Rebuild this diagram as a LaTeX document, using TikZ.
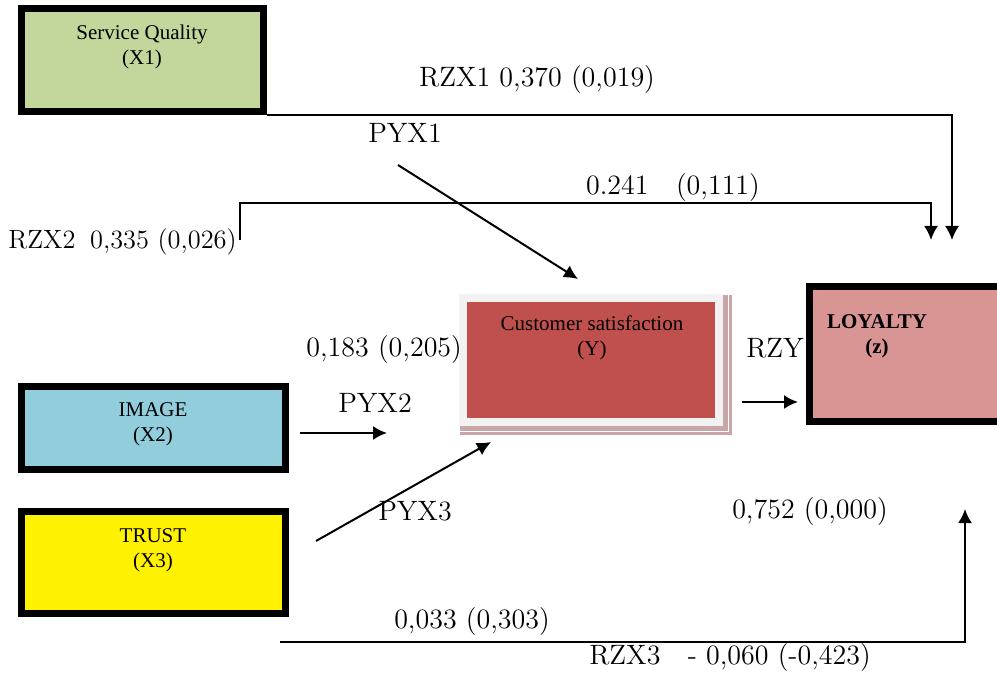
\documentclass[tikz,border=0pt]{standalone}
\usepackage{fontspec}
\usepackage{tikz}
\usetikzlibrary{arrows.meta,backgrounds}
\newfontfamily\timesfont{Liberation Serif}
\definecolor{sqgreen}{HTML}{C3D69B}
\definecolor{imblue}{HTML}{92CDDC}
\definecolor{csred}{HTML}{C0504D}
\definecolor{csframe}{HTML}{F2F2F2}
\definecolor{csshadow}{HTML}{C9A6A8}
\definecolor{lypink}{HTML}{D99594}
\newcommand{\lblfont}{\fontsize{14}{17}\selectfont}
\newcommand{\boxfont}{\timesfont\fontsize{10.5}{12.5}\selectfont}

\begin{document}
\begin{tikzpicture}[x=0.5pt,y=-0.5pt,
    varbox/.style={draw,line width=3.5pt,shape=rectangle,inner sep=0pt},
    boxtxt/.style={font=\boxfont,align=center,inner sep=0pt},
    lbl/.style={font=\lblfont,inner sep=0pt},
    arr/.style={line width=1pt,-{Latex[length=7pt,width=7pt]}}]
    \useasboundingbox (0,0) rectangle (997,674);

    % labels first, the Y box covers part of one
    \node[lbl] (l_rzx1) at (537,80) {RZX1 0,370 (0,019)};
    \node[lbl] (l_pyx1) at (405,133) {PYX1};
    \node[lbl] (l_x2z) at (673,188) {0.241\ \ \ (0,111)};
    \node[lbl,font=\fontsize{13.2}{16}\selectfont,anchor=west] (l_rzx2) at (8,242) {RZX2\hspace{3pt} 0,335 (0,026)};
    \node[lbl,anchor=west] (l_x2y) at (306,350) {0,183 (0,205)};
    \node[lbl] (l_rzy) at (775,348) {RZY};
    \node[lbl] (l_pyx2) at (375,403) {PYX2};
    \node[lbl] (l_pyx3) at (415,511) {PYX3};
    \node[lbl] (l_yz) at (810,512) {0,752 (0,000)};
    \node[lbl] (l_x3y) at (472,622) {0,033 (0,303)};
    \node[lbl] (l_rzx3) at (730,658) {RZX3\ \ \ - 0,060 (-0,423)};

    % variables
    \node[varbox,fill=sqgreen,minimum width=121pt,minimum height=51.5pt] (X_1) at (142.5,60) {};
    \node[boxtxt] (X_1t) at (142,47) {Service Quality\\(X1)};
    \node[varbox,fill=imblue,minimum width=132pt,minimum height=41.5pt] (X_2) at (153.5,428) {};
    \node[boxtxt] (X_2t) at (153,424) {IMAGE\\(X2)};
    \node[varbox,fill=yellow,minimum width=132pt,minimum height=51pt] (X_3) at (153.5,562.5) {};
    \node[boxtxt] (X_3t) at (153,550) {TRUST\\(X3)};
    \node[varbox,fill=lypink,minimum width=100.25pt,minimum height=67.5pt] (Z) at (909.75,353.5) {};
    \node[boxtxt,font=\boxfont\bfseries] (Zt) at (877,336) {LOYALTY\\(z)};
    \node[draw=csframe,fill=csred,line width=4pt,inner sep=0pt,
          minimum width=128pt,minimum height=62pt] (Y) at (591,360) {};
    \begin{scope}[on background layer]
        \fill[csshadow] ([shift={(1,1)}]Y.north west) rectangle ([shift={(9,9)}]Y.south east);
        \draw[white,line width=0.5pt] ([shift={(-4,-4)}]Y.north west) rectangle ([shift={(5,5)}]Y.south east);
    \end{scope}
    \node[boxtxt] (Yt) at (592,338) {Customer satisfaction\\(Y)};

    % free ends of the connectors
    \coordinate (z_1) at (952,240);
    \coordinate (x_2s) at (240,240);
    \coordinate (z_2) at (931,240);
    \coordinate (p_1s) at (398,165);
    \coordinate (p_1e) at (578,279);
    \coordinate (p_2s) at (300,433);
    \coordinate (p_2e) at (387,433);
    \coordinate (p_3s) at (316,541);
    \coordinate (p_3e) at (491,442);
    \coordinate (yz_s) at (742,402);
    \coordinate (yz_e) at (798,402);
    \coordinate (x_3s) at (280,642);
    \coordinate (z_3) at (965,509);

    \draw[arr,line width=0.8pt] (X_1.south east) -| (z_1);
    \draw[arr] (x_2s) -- ++(0,-37) -| (z_2);
    \draw[arr] (p_1s) -- (p_1e);
    \draw[arr] (p_2s) -- (p_2e);
    \draw[arr] (p_3s) -- (p_3e);
    \draw[arr] (yz_s) -- (yz_e);
    \draw[arr] (x_3s) -| (z_3);
\end{tikzpicture}
\end{document}
